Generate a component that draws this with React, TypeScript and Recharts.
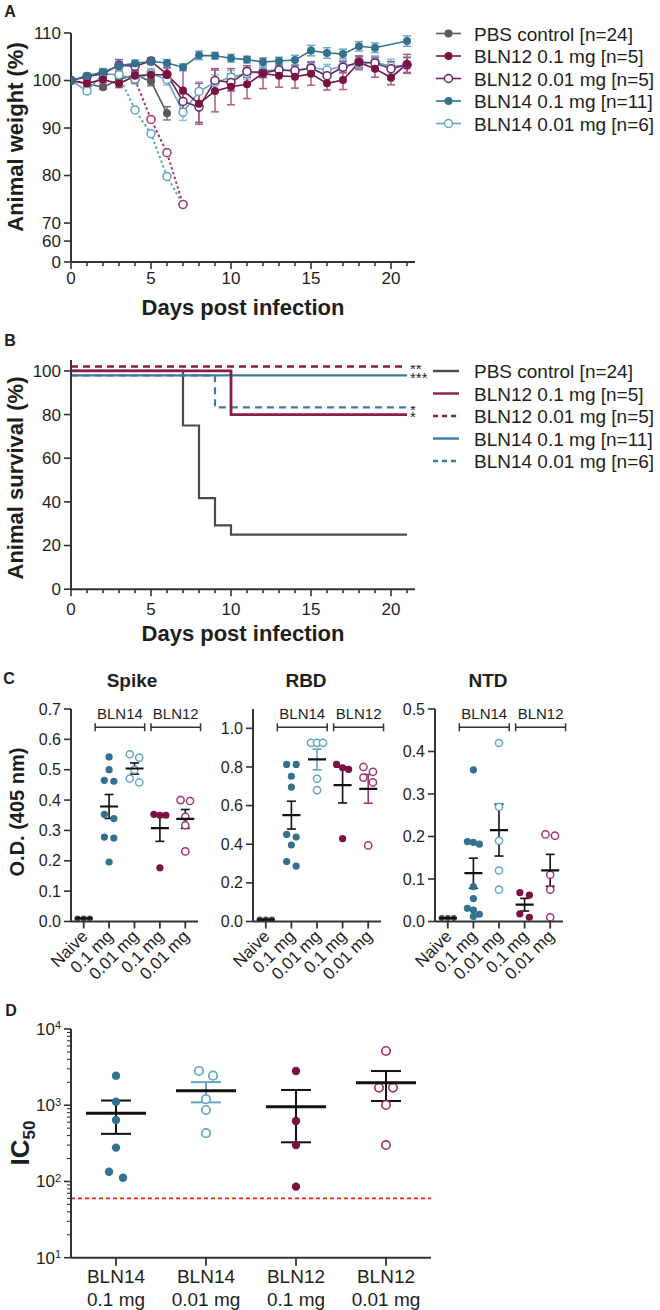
import React from 'react';
import {
  LineChart, Line, XAxis, YAxis, ErrorBar, ComposedChart, Scatter, ReferenceLine,
} from 'recharts';

const FONT = '"Liberation Sans", Arial, Helvetica, sans-serif';
const INK = '#1e1e1e';
const AXIS = '#333333';

// colours
const GRAY = '#595959';
const MAROON = '#7b1141';
const PURPLE = '#6c2464';
const MAGENTA = '#a33470';
const TEAL = '#33718f';
const LTEAL = '#62a5c6';
const GRAY_ERR = '#7a7a7a';
const MAROON_ERR = '#b55a85';
const PURPLE_ERR = '#8e5a8c';
const TEAL_ERR = '#6ea9c6';
const LTEAL_ERR = '#8cc3dc';
const RED = '#e5261f';

// ---------------- Panel A : body weight ----------------
const weightDays = [0, 1, 2, 3, 4, 5, 6, 7, 8, 9, 10, 11, 12, 13, 14, 15, 16, 17, 18, 19, 20, 21];
const weightTickValues = [61.8, 66.2, 70, 80, 90, 100, 110];
const weightTickLabels = ['0', '60', '70', '80', '90', '100', '110'];

const pbsWeight = [100, 99.3, 98.6, 100.2, 101.2, 99.8, 93.1];
const pbsWeightSem = [0, 0.4, 0.4, 0.6, 0.6, 0.9, 1.4];
const bln12HiWeight = [100, 99.4, 100.2, 99.3, 101, 101.2, 101.2, 97.9, 95.1, 97.8, 98.7, 99.2, 101.5, 101, 100.8, 101.4, 99.4, 100.1, 103.8, 102.5, 100.6, 103.5];
const bln12HiWeightSem = [0, 0.6, 0.7, 0.8, 0.8, 0.9, 1.5, 4.2, 4.3, 4.4, 3.8, 3.0, 3.2, 2.4, 2.4, 2.4, 1.4, 2.0, 1.4, 1.8, 1.5, 2.0];
const bln12LoWeight = [100, 100.8, 101.5, 103.2, 103, 104.1, 101.3, 95.6, 94.4, 100, 99.6, 101.9, 101.6, 102.2, 102.1, 102.6, 101, 102.8, 103.9, 103.7, 102.5, 103.3];
const bln12LoWeightSem = [0, 0.6, 0.8, 1.2, 0.9, 0.7, 1.4, 1.6, 3.2, 2.5, 1.8, 1.2, 1.0, 1.0, 1.2, 1.3, 1.5, 1.2, 1.2, 1.2, 1.5, 1.6];
const bln14HiWeight = [100, 101, 101.8, 103.1, 103.6, 104, 103.7, 102.8, 105.3, 105.2, 104.7, 104.4, 103.9, 104.1, 104.3, 106.3, 105.8, 105.6, 107.2, 106.9, null, 108.3];
const bln14HiWeightSem = [0, 0.5, 0.7, 0.9, 0.7, 0.6, 0.7, 0.7, 0.9, 0.7, 0.8, 0.7, 0.8, 0.8, 1.0, 1.1, 1.1, 1.0, 1.0, 1.0, null, 1.1];
const bln14LoWeight = [100, 97.8, 101.4, 101.2, 100.3, 101.5, 100.2, 93.3, 97.7, 99.6, 100.7, 101.5, 102, 102.3, 101.9, 102.8, 102.2, 103, 103.5, 103.9, 103, 103.2];
const bln14LoWeightSem = [0, 0.7, 1.0, 1.4, 1.0, 1.0, 1.2, 1.7, 2.0, 1.6, 1.4, 1.2, 1.2, 1.0, 1.0, 1.2, 1.2, 1.2, 1.3, 1.3, 1.5, 1.6];
// single animals that died (dotted)
const bln12LoDeathDays = [4, 5, 6, 7];
const bln12LoDeathWeight = [100.2, 91.8, 84.8, 73.9];
const bln14LoDeathDays = [3, 4, 5, 6, 7];
const bln14LoDeathWeight = [101, 93.8, 88.8, 79.8, 73.9];

const weightLegend = [
  { label: 'PBS control [n=24]', color: GRAY, open: false },
  { label: 'BLN12 0.1 mg [n=5]', color: MAROON, open: false },
  { label: 'BLN12 0.01 mg [n=5]', color: PURPLE, open: true },
  { label: 'BLN14 0.1 mg [n=11]', color: TEAL, open: false },
  { label: 'BLN14 0.01 mg [n=6]', color: LTEAL, open: true },
];

// ---------------- Panel B : survival ----------------
const survTicks = [0, 20, 40, 60, 80, 100];
const survPbsDays = [0, 7, 8, 9, 10, 21];
const survPbs = [100, 75, 41.7, 29.2, 25, 25];
const survBln12HiDays = [0, 10, 21];
const survBln12Hi = [100, 80, 80];
const survBln12LoDays = [0, 21];
const survBln12Lo = [102, 102];
const survBln14HiDays = [0, 21];
const survBln14Hi = [98, 98];
const survBln14LoDays = [0, 9, 21];
const survBln14Lo = [98, 83.3, 83.3];
const survStarPairs = [
  { y1: 102, y2: 98, t1: '**', t2: '***' },
  { y1: 83.3, y2: 80, t1: '*', t2: '*' },
];
const S_GRAY = '#4b4b4b';
const S_MAROON = '#8a1b4b';
const S_TEAL = '#3c7c9e';
const survLegend = [
  { label: 'PBS control [n=24]', color: S_GRAY, dash: false },
  { label: 'BLN12 0.1 mg [n=5]', color: S_MAROON, dash: false },
  { label: 'BLN12 0.01 mg [n=5]', color: S_MAROON, dash: true },
  { label: 'BLN14 0.1 mg [n=11]', color: S_TEAL, dash: false },
  { label: 'BLN14 0.01 mg [n=6]', color: S_TEAL, dash: true },
];

// ---------------- Panel C : ELISA ----------------
const elisaLabels = ['Naive', '0.1 mg', '0.01 mg', '0.1 mg', '0.01 mg'];
const spikeNaive = [0.01, 0.01, 0.01];
const spikeBln14Hi = [0.542, 0.5, 0.465, 0.462, 0.353, 0.339, 0.278, 0.275, 0.196];
const spikeBln14Lo = [0.551, 0.54, 0.5, 0.471, 0.458];
const spikeBln12Hi = [0.353, 0.35, 0.35, 0.177];
const spikeBln12Lo = [0.4, 0.397, 0.345, 0.317, 0.231];
const rbdNaive = [0.01, 0.01, 0.01];
const rbdBln14Hi = [0.813, 0.813, 0.752, 0.696, 0.451, 0.437, 0.396, 0.31, 0.287];
const rbdBln14Lo = [0.925, 0.925, 0.925, 0.739, 0.68];
const rbdBln12Hi = [0.813, 0.796, 0.787, 0.429];
const rbdBln12Lo = [0.8, 0.775, 0.745, 0.72, 0.394];
const ntdNaive = [0.008, 0.008, 0.008];
const ntdBln14Hi = [0.357, 0.188, 0.186, 0.182, 0.082, 0.054, 0.031, 0.027, 0.017, 0.012];
const ntdBln14Lo = [0.42, 0.27, 0.19, 0.12, 0.075];
const ntdBln12Hi = [0.068, 0.062, 0.018, 0.01];
const ntdBln12Lo = [0.205, 0.202, 0.11, 0.075, 0.01];
const spikeTicks = [0, 0.1, 0.2, 0.3, 0.4, 0.5, 0.6, 0.7];
const rbdTicks = [0, 0.2, 0.4, 0.6, 0.8, 1.0];
const ntdTicks = [0, 0.1, 0.2, 0.3, 0.4, 0.5];

// ---------------- Panel D : IC50 ----------------
const ic50Top = ['BLN14', 'BLN14', 'BLN12', 'BLN12'];
const ic50Bottom = ['0.1 mg', '0.01 mg', '0.1 mg', '0.01 mg'];
const ic50Bln14Hi = [2443, 1114, 641, 278, 134, 112];
const ic50Bln14Lo = [2818, 2443, 1200, 867, 430];
const ic50Bln12Hi = [2818, 622, 301, 85.5];
const ic50Bln12Lo = [5152, 1702, 1702, 1009, 301];
const ic50Cutoff = 60;

// ---------------- helpers ----------------
const mean = (a: number[]) => a.reduce((s, v) => s + v, 0) / a.length;
const sem = (a: number[]) => {
  const m = mean(a);
  const sd = Math.sqrt(a.reduce((s, v) => s + (v - m) ** 2, 0) / (a.length - 1));
  return sd / Math.sqrt(a.length);
};

function frame(x0: number, y0: number, x1: number, y1: number, yw: number, xh: number) {
  const pad = { l: 5, t: 12, r: 12, b: 5 };
  const left = x0 - yw - pad.l;
  const top = y0 - pad.t;
  const width = x1 - left + pad.r;
  const height = y1 - top + xh + pad.b;
  return {
    box: { position: 'absolute' as const, left, top, width, height },
    width, height,
    margin: { left: pad.l, top: pad.t, right: pad.r, bottom: pad.b },
  };
}

function swarmOffsets(values: number[], toPx: (v: number) => number, thr: number, sp2: number, sp3: number) {
  const idx = values.map((_, i) => i).sort((a, b) => toPx(values[b]) - toPx(values[a]));
  const out = new Array(values.length).fill(0);
  let row: number[] = [];
  let start = 0;
  const flush = () => {
    const k = row.length;
    const sp = k >= 3 ? sp3 : sp2;
    row.forEach((id, j) => { out[id] = (j - (k - 1) / 2) * sp; });
    row = [];
  };
  idx.forEach((id) => {
    const p = toPx(values[id]);
    if (row.length && start - p >= thr) flush();
    if (!row.length) start = p;
    row.push(id);
  });
  flush();
  return out;
}

const series = (days: number[], vals: (number | null)[], sems?: (number | null)[]) =>
  days.map((d, i) => ({ day: d, w: vals[i], sem: sems ? sems[i] : 0 })).filter((p) => p.w != null);

const axisLine = { stroke: AXIS, strokeWidth: 2 };

function Txt({ x, y, size, bold, rotate, left, children }: any) {
  return (
    <div style={{
      position: 'absolute', left: x, top: y,
      transform: `${left ? 'translate(0,-50%)' : 'translate(-50%,-50%)'} rotate(${rotate || 0}deg)`,
      fontSize: size, fontWeight: bold ? 700 : 400, whiteSpace: 'nowrap', lineHeight: 1,
      fontFamily: FONT, color: INK,
    }}>{children}</div>
  );
}

function DayTick(p: any) {
  const { x, y, payload, labelDy } = p;
  const v = payload.value;
  const major = v % 5 === 0;
  return (
    <g>
      <line x1={x} x2={x} y1={y} y2={y + (major ? 7 : 4)} stroke={AXIS} strokeWidth={1.6} />
      {major ? <text x={x} y={y + labelDy} textAnchor="middle" fontSize={17} fill={INK}>{v}</text> : null}
    </g>
  );
}

function ValueTick(p: any) {
  const { x, y, text, fs } = p;
  return (
    <g>
      <line x1={x - 7} x2={x} y1={y} y2={y} stroke={AXIS} strokeWidth={1.6} />
      <text x={x - 10} y={y} dy="0.35em" textAnchor="end" fontSize={fs || 17} fill={INK}>{text}</text>
    </g>
  );
}

function CatTick(p: any) {
  const { x, y, payload, labels } = p;
  const ax = x + 1;
  const ay = y + 12;
  return (
    <g>
      <line x1={x} x2={x} y1={y} y2={y + 7} stroke={AXIS} strokeWidth={1.8} />
      <text x={ax} y={ay} transform={`rotate(-45 ${ax} ${ay})`} textAnchor="end" dominantBaseline="central" fontSize={17} fill={INK}>
        {labels[payload.value]}
      </text>
    </g>
  );
}

function LogTick(p: any) {
  const { x, y, payload } = p;
  const lg = Math.log10(payload.value);
  const e = Math.round(lg);
  const major = Math.abs(lg - e) < 1e-6;
  return (
    <g>
      <line x1={x - (major ? 7 : 4)} x2={x} y1={y} y2={y} stroke={AXIS} strokeWidth={major ? 1.6 : 1.1} />
      {major ? (
        <text x={x - 10} y={y} dy="0.35em" textAnchor="end" fontSize={17} fill={INK}>
          10<tspan dy="-0.5em" fontSize={11}>{e}</tspan>
        </text>
      ) : null}
    </g>
  );
}

function D2Tick(p: any) {
  const { x, y, payload } = p;
  return (
    <g>
      <line x1={x} x2={x} y1={y} y2={y + 8} stroke={AXIS} strokeWidth={1.8} />
      <text x={x} y={y + 25} textAnchor="middle" fontSize={19} fill={INK}>{ic50Top[payload.value]}</text>
      <text x={x} y={y + 48} textAnchor="middle" fontSize={19} fill={INK}>{ic50Bottom[payload.value]}</text>
    </g>
  );
}

const mkDot = (color: string, open: boolean, r = 4) => (p: any) => {
  if (p.cx == null || p.cy == null) return <g key={`e${p.index}`} />;
  return (
    <circle key={`d${p.index}`} cx={p.cx} cy={p.cy} r={r}
      fill={open ? '#fff' : color} stroke={color} strokeWidth={open ? 1.5 : 0} />
  );
};

const pointShape = (color: string, open: boolean, r: number, sw: number) => (p: any) => (
  <circle cx={p.cx} cy={p.cy} r={r} fill={open ? '#fff' : color} stroke={color} strokeWidth={open ? sw : 0} />
);

const meanShape = (w: number, sw: number) => (p: any) => (
  <line x1={p.cx - w / 2} x2={p.cx + w / 2} y1={p.cy} y2={p.cy} stroke="#111" strokeWidth={sw} />
);

const bracketShape = (p: any) => (
  <g>
    <line x1={p.x1} x2={p.x2} y1={p.y1} y2={p.y2} stroke={AXIS} strokeWidth={1.5} />
    <line x1={p.x1} x2={p.x1} y1={p.y1 - 4} y2={p.y1 + 4} stroke={AXIS} strokeWidth={1.5} />
    <line x1={p.x2} x2={p.x2} y1={p.y2 - 4} y2={p.y2 + 4} stroke={AXIS} strokeWidth={1.5} />
  </g>
);

// two stacked significance marks as one text block, placed from the scale positions of the two curves
const starShape = (t1: string, t2: string) => (p: any) => {
  const gap = Math.max(6, p.y2 - p.y1);
  return (
    <foreignObject x={p.x1 + 3} y={p.y1 - 1.5} width={34} height={gap * 2 + 6}>
      <div style={{ fontFamily: FONT, fontSize: 15, lineHeight: `${gap}px`, color: INK, whiteSpace: 'pre' }}>
        {t1}<br />{t2}
      </div>
    </foreignObject>
  );
};

// ---------------- Panel A ----------------
const fA = frame(70.5, 33.3, 414.5, 262.3, 55, 40);
const legendRowsA = [33.5, 56, 78.5, 101, 123.5];

function PanelA() {
  const lines = [
    { d: series(bln14LoDeathDays, bln14LoDeathWeight), c: LTEAL, e: LTEAL_ERR, open: true, dash: '2.5 2.5' },
    { d: series(bln12LoDeathDays, bln12LoDeathWeight), c: MAGENTA, e: MAGENTA, open: true, dash: '2.5 2.5' },
    { d: series(weightDays.slice(0, pbsWeight.length), pbsWeight, pbsWeightSem), c: GRAY, e: GRAY_ERR, open: false },
    { d: series(weightDays, bln14LoWeight, bln14LoWeightSem), c: LTEAL, e: LTEAL_ERR, open: true },
    { d: series(weightDays, bln12LoWeight, bln12LoWeightSem), c: PURPLE, e: PURPLE_ERR, open: true },
    { d: series(weightDays, bln12HiWeight, bln12HiWeightSem), c: MAROON, e: MAROON_ERR, open: false },
    { d: series(weightDays, bln14HiWeight, bln14HiWeightSem), c: TEAL, e: TEAL_ERR, open: false },
  ];
  return (
    <>
      <div style={fA.box}>
        <LineChart width={fA.width} height={fA.height} margin={fA.margin}>
          <XAxis type="number" dataKey="day" domain={[0, 21.5]} ticks={weightDays} interval={0} height={40}
            tickSize={0} tickMargin={0} axisLine={axisLine} allowDataOverflow
            tick={(p: any) => <DayTick {...p} labelDy={21.5} />} />
          <YAxis type="number" domain={[61.8, 110]} ticks={weightTickValues} interval={0} width={55}
            tickSize={0} tickMargin={0} axisLine={axisLine} allowDataOverflow
            tick={(p: any) => <ValueTick {...p} text={weightTickLabels[weightTickValues.indexOf(p.payload.value)]} />} />
          {lines.map((l, i) => (
            <Line key={i} data={l.d} dataKey="w" type="linear" stroke={l.c} strokeWidth={l.dash ? 2 : 1.6}
              strokeDasharray={l.dash} isAnimationActive={false} dot={mkDot(l.c, l.open)} activeDot={false}
              connectNulls>
              {l.dash ? null : <ErrorBar dataKey="sem" direction="y" width={4} stroke={l.e} strokeWidth={1.5} />}
            </Line>
          ))}
        </LineChart>
      </div>
      <svg style={{ position: 'absolute', left: 0, top: 0 }} width={660} height={140}>
        {weightLegend.map((g, i) => (
          <g key={i}>
            <line x1={436} x2={461} y1={legendRowsA[i]} y2={legendRowsA[i]} stroke={g.color} strokeWidth={1.6} />
            <circle cx={448.5} cy={legendRowsA[i]} r={4} fill={g.open ? '#fff' : g.color} stroke={g.color} strokeWidth={g.open ? 1.5 : 0} />
          </g>
        ))}
      </svg>
      {weightLegend.map((g, i) => (
        <Txt key={i} x={474} y={legendRowsA[i]} size={19} left>{g.label}</Txt>
      ))}
      <Txt x={10} y={12} size={16} bold>A</Txt>
      <Txt x={16} y={137} size={22} bold rotate={-90}>Animal weight (%)</Txt>
      <Txt x={243} y={308} size={22} bold>Days post infection</Txt>
    </>
  );
}

// ---------------- Panel B ----------------
const fB = frame(70.5, 360, 414.5, 589.2, 55, 40);
const legendRowsB = [371, 393.5, 416, 438.5, 461];

function PanelB() {
  const mk = (days: number[], vals: number[]) => days.map((d, i) => ({ day: d, s: vals[i] }));
  const curves = [
    { d: mk(survPbsDays, survPbs), c: S_GRAY, w: 2.2 },
    { d: mk(survBln14LoDays, survBln14Lo), c: S_TEAL, w: 2.2, dash: '7 5' },
    { d: mk(survBln14HiDays, survBln14Hi), c: S_TEAL, w: 2.2 },
    { d: mk(survBln12HiDays, survBln12Hi), c: S_MAROON, w: 2.8 },
    { d: mk(survBln12LoDays, survBln12Lo), c: S_MAROON, w: 2.4, dash: '7 5' },
  ];
  return (
    <>
      <div style={fB.box}>
        <LineChart width={fB.width} height={fB.height} margin={fB.margin}>
          <XAxis type="number" dataKey="day" domain={[0, 21.5]} ticks={weightDays} interval={0} height={40}
            tickSize={0} tickMargin={0} axisLine={axisLine} allowDataOverflow
            tick={(p: any) => <DayTick {...p} labelDy={26} />} />
          <YAxis type="number" domain={[0, 105]} ticks={survTicks} interval={0} width={55}
            tickSize={0} tickMargin={0} axisLine={axisLine} allowDataOverflow
            tick={(p: any) => <ValueTick {...p} text={p.payload.value} />} />
          {curves.map((c, i) => (
            <Line key={i} data={c.d} dataKey="s" type="stepAfter" stroke={c.c} strokeWidth={c.w}
              strokeDasharray={c.dash} isAnimationActive={false} dot={false} activeDot={false} />
          ))}
          {survStarPairs.map((s, i) => (
            <ReferenceLine key={i} segment={[{ x: 21, y: s.y1 }, { x: 21, y: s.y2 }]} ifOverflow="visible"
              shape={starShape(s.t1, s.t2)} />
          ))}
        </LineChart>
      </div>
      <svg style={{ position: 'absolute', left: 0, top: 340 }} width={660} height={140}>
        {survLegend.map((g, i) => (
          <line key={i} x1={433} x2={459} y1={legendRowsB[i] - 340} y2={legendRowsB[i] - 340}
            stroke={g.color} strokeWidth={2.4} strokeDasharray={g.dash ? '5 4' : undefined} />
        ))}
      </svg>
      {survLegend.map((g, i) => (
        <Txt key={i} x={474} y={legendRowsB[i]} size={19} left>{g.label}</Txt>
      ))}
      <Txt x={10} y={341} size={16} bold>B</Txt>
      <Txt x={16} y={478} size={22} bold rotate={-90}>Animal survival (%)</Txt>
      <Txt x={243} y={634} size={22} bold>Days post infection</Txt>
    </>
  );
}

// ---------------- Panel C ----------------
type EG = { values: number[]; color: string; open: boolean; semColor: string };

function ElisaPanel({ x0, x1, yMax, yTicks, groups, bracketY }: { x0: number; x1: number; yMax: number; yTicks: number[]; groups: EG[]; bracketY: number }) {
  const y0 = 709;
  const y1 = 921.5;
  const f = frame(x0, y0, x1, y1, 58, 75);
  const plotH = y1 - y0;
  const unitPx = (x1 - x0) / 5;
  return (
    <div style={f.box}>
      <ComposedChart width={f.width} height={f.height} margin={f.margin}>
        <XAxis type="number" dataKey="x" domain={[-0.5, 4.5]} ticks={[0, 1, 2, 3, 4]} interval={0} height={75}
          tickSize={0} tickMargin={0} axisLine={axisLine} allowDataOverflow
          tick={(p: any) => <CatTick {...p} labels={elisaLabels} />} />
        <YAxis type="number" dataKey="y" domain={[0, yMax]} ticks={yTicks} interval={0} width={58}
          tickSize={0} tickMargin={0} axisLine={axisLine} allowDataOverflow
          tick={(p: any) => <ValueTick {...p} fs={16} text={Number(p.payload.value).toFixed(1)} />} />
        <ReferenceLine segment={[{ x: 0.45, y: bracketY }, { x: 2.4, y: bracketY }]} ifOverflow="visible"
          shape={bracketShape} label={{ value: 'BLN14', position: 'top', offset: 8, fontSize: 15, fill: INK }} />
        <ReferenceLine segment={[{ x: 2.65, y: bracketY }, { x: 4.6, y: bracketY }]} ifOverflow="visible"
          shape={bracketShape} label={{ value: 'BLN12', position: 'top', offset: 8, fontSize: 15, fill: INK }} />
        {groups.map((g, i) => {
          const offs = swarmOffsets(g.values, (v) => (v / yMax) * plotH, 7, 9.5, 6);
          const data = g.values.map((v, j) => ({ x: i + offs[j] / unitPx, y: v }));
          return (
            <Scatter key={`p${i}`} data={data} isAnimationActive={false}
              shape={pointShape(g.color, g.open, i === 0 ? 3 : 3.6, 1.5)} />
          );
        })}
        {groups.map((g, i) => (
          <Scatter key={`m${i}`} data={[{ x: i, y: mean(g.values), sem: sem(g.values) }]} isAnimationActive={false}
            shape={meanShape(18, 2.2)}>
            <ErrorBar dataKey="sem" direction="y" width={4.5} stroke={g.semColor} strokeWidth={1.6} />
          </Scatter>
        ))}
      </ComposedChart>
    </div>
  );
}

function PanelC() {
  const mkGroups = (n: number[], a: number[], b: number[], c: number[], d: number[], colored: boolean): EG[] => [
    { values: n, color: '#444', open: false, semColor: '#111' },
    { values: a, color: TEAL, open: false, semColor: '#111' },
    { values: b, color: LTEAL, open: true, semColor: colored ? LTEAL : '#111' },
    { values: c, color: MAROON, open: false, semColor: '#111' },
    { values: d, color: MAGENTA, open: true, semColor: colored ? MAGENTA : '#111' },
  ];
  return (
    <>
      <ElisaPanel x0={71} x1={198} yMax={0.7} yTicks={spikeTicks} bracketY={0.64}
        groups={mkGroups(spikeNaive, spikeBln14Hi, spikeBln14Lo, spikeBln12Hi, spikeBln12Lo, false)} />
      <ElisaPanel x0={253} x1={381} yMax={1.1} yTicks={rbdTicks} bracketY={1.005}
        groups={mkGroups(rbdNaive, rbdBln14Hi, rbdBln14Lo, rbdBln12Hi, rbdBln12Lo, true)} />
      <ElisaPanel x0={435} x1={563} yMax={0.5} yTicks={ntdTicks} bracketY={0.457}
        groups={mkGroups(ntdNaive, ntdBln14Hi, ntdBln14Lo, ntdBln12Hi, ntdBln12Lo, false)} />
      <Txt x={9} y={679} size={16} bold>C</Txt>
      <Txt x={132} y={680} size={19} bold>Spike</Txt>
      <Txt x={306} y={680} size={19} bold>RBD</Txt>
      <Txt x={488} y={680} size={19} bold>NTD</Txt>
      <Txt x={17} y={812} size={20} bold rotate={-90}>O.D. (405 nm)</Txt>
    </>
  );
}

// ---------------- Panel D ----------------
const fD = frame(71, 1029, 431, 1257.7, 60, 52);
const logTicks: number[] = [];
for (let e = 1; e <= 3; e++) for (let m = 1; m <= 9; m++) logTicks.push(m * Math.pow(10, e));
logTicks.push(10000);

function PanelD() {
  const groups: EG[] = [
    { values: ic50Bln14Hi, color: TEAL, open: false, semColor: '#111' },
    { values: ic50Bln14Lo, color: LTEAL, open: true, semColor: LTEAL },
    { values: ic50Bln12Hi, color: MAROON, open: false, semColor: '#111' },
    { values: ic50Bln12Lo, color: MAGENTA, open: true, semColor: '#111' },
  ];
  const pxPerDecade = (1257.7 - 1029) / 3;
  const unitPx = (431 - 71) / 4;
  return (
    <>
      <div style={fD.box}>
        <ComposedChart width={fD.width} height={fD.height} margin={fD.margin}>
          <XAxis type="number" dataKey="x" domain={[-0.5, 3.5]} ticks={[0, 1, 2, 3]} interval={0} height={52}
            tickSize={0} tickMargin={0} axisLine={axisLine} allowDataOverflow tick={(p: any) => <D2Tick {...p} />} />
          <YAxis type="number" dataKey="y" scale="log" domain={[10, 10000]} ticks={logTicks} interval={0} width={60}
            tickSize={0} tickMargin={0} axisLine={axisLine} allowDataOverflow tick={(p: any) => <LogTick {...p} />} />
          <ReferenceLine y={ic50Cutoff} stroke={RED} strokeDasharray="4 3" strokeWidth={1.8} />
          {groups.map((g, i) => {
            const offs = swarmOffsets(g.values, (v) => Math.log10(v) * pxPerDecade, 9, 14, 12);
            const data = g.values.map((v, j) => ({ x: i + offs[j] / unitPx, y: v }));
            return (
              <Scatter key={`p${i}`} data={data} isAnimationActive={false} shape={pointShape(g.color, g.open, 4.2, 1.7)} />
            );
          })}
          {groups.map((g, i) => (
            <Scatter key={`m${i}`} data={[{ x: i, y: mean(g.values), sem: sem(g.values) }]} isAnimationActive={false}
              shape={meanShape(60, 3)}>
              <ErrorBar dataKey="sem" direction="y" width={15} stroke={g.semColor} strokeWidth={2} />
            </Scatter>
          ))}
        </ComposedChart>
      </div>
      <Txt x={11} y={1011} size={16} bold>D</Txt>
      <Txt x={20} y={1143} size={26} bold rotate={-90}>
        IC<span style={{ fontSize: 17, position: 'relative', top: 6 }}>50</span>
      </Txt>
    </>
  );
}

export default function App() {
  return (
    <div style={{ position: 'absolute', left: 0, top: 0, width: 660, height: 1310, background: '#fff', fontFamily: FONT, color: INK }}>
      <PanelA />
      <PanelB />
      <PanelC />
      <PanelD />
    </div>
  );
}
